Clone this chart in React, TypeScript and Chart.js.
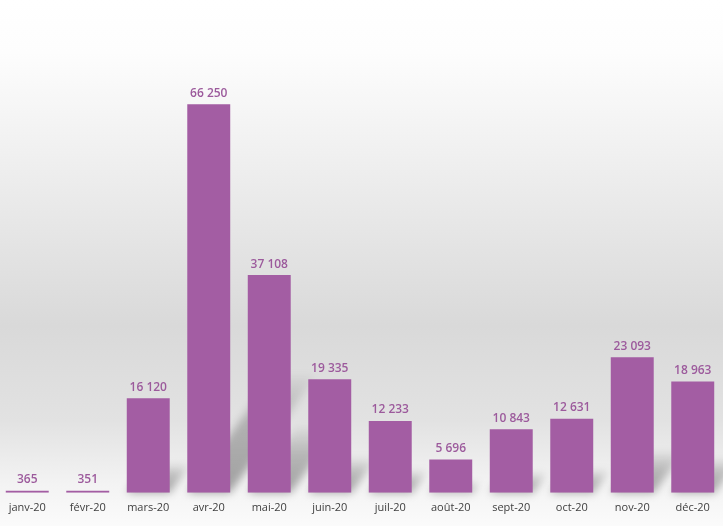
import React, { useEffect, useRef } from "react";
import { Chart, registerables } from "chart.js";

Chart.register(...registerables);

const categories = [
  "janv-20", "févr-20", "mars-20", "avr-20", "mai-20", "juin-20",
  "juil-20", "août-20", "sept-20", "oct-20", "nov-20", "déc-20",
];
const values = [365, 351, 16120, 66250, 37108, 19335, 12233, 5696, 10843, 12631, 23093, 18963];

const BAR_COLOR = "#A35DA3";
const LABEL_COLOR = "#9C5A9C";

const fmt = (v: number) => String(v).replace(/\B(?=(\d{3})+(?!\d))/g, " ");

const bgPlugin = {
  id: "bg",
  beforeDraw(chart: any) {
    const { ctx, width, height } = chart;
    const g = ctx.createLinearGradient(0, 0, 0, height);
    g.addColorStop(0, "#ffffff");
    g.addColorStop(0.1, "#fdfdfd");
    g.addColorStop(0.35, "#ececec");
    g.addColorStop(0.62, "#d9d9d9");
    g.addColorStop(0.8, "#e2e2e2");
    g.addColorStop(0.92, "#f3f3f3");
    g.addColorStop(1, "#fbfbfb");
    ctx.save();
    ctx.fillStyle = g;
    ctx.fillRect(0, 0, width, height);
    ctx.restore();
  },
};

const shadowPlugin = {
  id: "shadow",
  beforeDatasetsDraw(chart: any) {
    const { ctx } = chart;
    const meta = chart.getDatasetMeta(0);
    ctx.save();
    meta.data.forEach((bar: any) => {
      const { x, y, base, width } = bar.getProps(["x", "y", "base", "width"], true);
      const h = base - y;
      if (h < 5) return;
      const xl = x - width / 2;
      const xr = x + width / 2;
      const dy = h * 0.3;
      const dx = h * 0.22;
      const g = ctx.createLinearGradient(0, base, 0, base - dy);
      g.addColorStop(0, "rgba(0,0,0,0.35)");
      g.addColorStop(0.6, "rgba(0,0,0,0.22)");
      g.addColorStop(1, "rgba(0,0,0,0.04)");
      ctx.filter = "blur(4px)";
      ctx.fillStyle = g;
      ctx.beginPath();
      ctx.moveTo(xl, base);
      ctx.lineTo(xr, base);
      ctx.lineTo(xr + dx, base - dy);
      ctx.lineTo(xl + dx, base - dy);
      ctx.closePath();
      ctx.fill();
    });
    ctx.restore();
  },
};

const labelPlugin = {
  id: "valueLabels",
  afterDatasetsDraw(chart: any) {
    const { ctx } = chart;
    const meta = chart.getDatasetMeta(0);
    ctx.save();
    ctx.font = "600 12px 'Open Sans'";
    ctx.fillStyle = LABEL_COLOR;
    ctx.textAlign = "center";
    ctx.textBaseline = "bottom";
    meta.data.forEach((bar: any, i: number) => {
      ctx.fillText(fmt(values[i]), bar.x, bar.y - 5);
    });
    ctx.restore();
  },
};

export default function App() {
  const ref = useRef<HTMLCanvasElement>(null);
  useEffect(() => {
    if (!ref.current) return;
    const chart = new Chart(ref.current, {
      type: "bar",
      data: {
        labels: categories,
        datasets: [
          {
            data: values,
            backgroundColor: BAR_COLOR,
            categoryPercentage: 1,
            barPercentage: 0.71,
            borderWidth: 0,
          },
        ],
      },
      options: {
        responsive: false,
        animation: false,
        layout: { padding: { left: 0, right: 0, top: 0, bottom: 4 } },
        plugins: { legend: { display: false }, tooltip: { enabled: false } },
        scales: {
          x: {
            grid: { display: false, drawTicks: false },
            border: { display: false },
            ticks: {
              color: "#404040",
              font: { family: "'Open Sans'", size: 11 },
              padding: 8,
              maxRotation: 0,
            },
          },
          y: {
            display: false,
            min: 0,
            max: 84000,
          },
        },
      },
      plugins: [bgPlugin, shadowPlugin, labelPlugin],
    });
    return () => chart.destroy();
  }, []);
  return (
    <div style={{ position: "absolute", left: -3, top: 0, width: 726, height: 526 }}>
      <canvas ref={ref} width={726} height={526} style={{ display: "block" }} />
    </div>
  );
}
